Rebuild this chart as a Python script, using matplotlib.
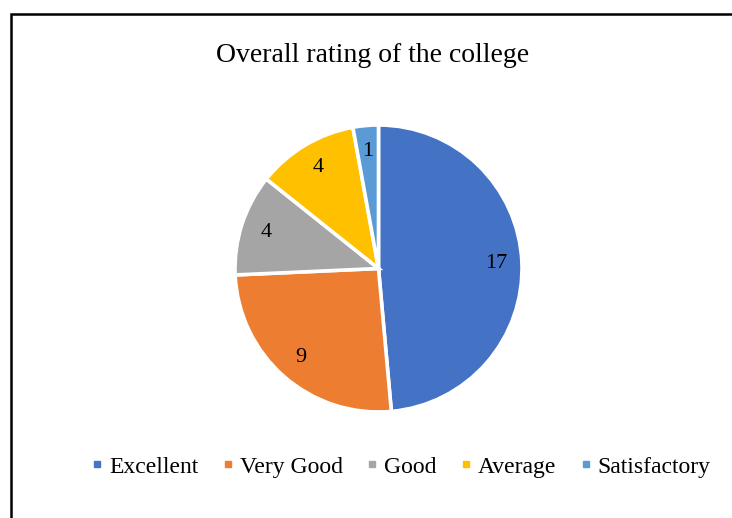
import matplotlib.pyplot as plt
from matplotlib.lines import Line2D
from matplotlib.patches import Rectangle

plt.rcParams['font.family'] = ['Liberation Serif', 'DejaVu Serif']

categories = ['Excellent', 'Very Good', 'Good', 'Average', 'Satisfactory']
counts = [17, 9, 4, 4, 1]
colors = ['#4472C4', '#ED7D31', '#A5A5A5', '#FFC000', '#5B9BD5']

fig = plt.figure(figsize=(7.32, 5.18), dpi=100)

# chart border (Excel chart area outline, clipped on right and bottom)
fig.patches.append(Rectangle((10.5 / 732, -0.05), 1.0, (504 + 26) / 518,
                             transform=fig.transFigure, fill=False,
                             edgecolor='black', linewidth=1.8))

ax = fig.add_axes([235 / 732, 106 / 518, 287 / 732, 287 / 518])
wedges, texts = ax.pie(counts, colors=colors, startangle=90, counterclock=False,
                       labels=[str(c) for c in counts], labeldistance=0.82,
                       wedgeprops=dict(edgecolor='white', linewidth=2.6),
                       textprops=dict(fontsize=16, color='black'))
for t in texts:
    t.set_ha('center')
    t.set_va('center')
ax.set_xlim(-1, 1)
ax.set_ylim(-1, 1)
ax.set_aspect('equal')

fig.text(373 / 732, 1 - 56 / 518, 'Overall rating of the college',
         ha='center', va='center', fontsize=20)

handles = [Line2D([], [], marker='s', linestyle='none', markersize=5,
                  markerfacecolor=c, markeredgecolor=c) for c in colors]
fig.legend(handles, categories, loc='center', bbox_to_anchor=(401 / 732, 1 - 467 / 518),
           ncol=5, frameon=False, fontsize=17, handlelength=0.5,
           handletextpad=0.25, columnspacing=1.0)

fig.savefig('out.png', dpi=100)
